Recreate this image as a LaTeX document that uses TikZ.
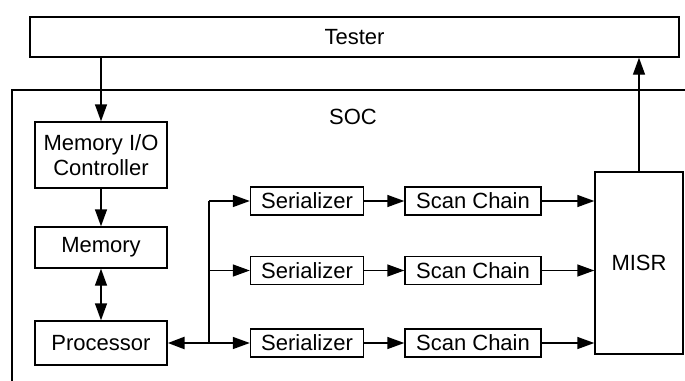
\documentclass[tikz,border=0pt]{standalone}
\usepackage{fontspec}
\setmainfont{Liberation Sans}
\usetikzlibrary{arrows.meta}
\begin{document}
\begin{tikzpicture}[x=1pt,y=-1pt,
  blk/.style={draw,line width=1.4pt,inner sep=0pt,align=center,
    font=\fontsize{22}{24.5}\selectfont},
  tip/.style={Triangle[length=17pt,width=12pt]},
  conn/.style={line width=1.4pt,-{Triangle[length=17pt,width=12pt]}},
  biconn/.style={line width=1.4pt,{Triangle[length=17pt,width=12pt]}-{Triangle[length=17pt,width=12pt]}},
  lbl/.style={font=\fontsize{22}{24.5}\selectfont}]
\useasboundingbox (0,0) rectangle (685,380);
\clip (0,0) rectangle (685,380);
\fill[white] (0,0) rectangle (685,380);

% system-on-chip outline, running off the right and bottom edges
\draw[line width=1.4pt] (12,400) -- (12,90) -- (700,90);
\node[lbl] (soc) at (353,117) {SOC};

% tester
\node[blk,minimum width=649pt,minimum height=40pt] (tester) at (354.5,37) {Tester};

% memory path
\node[blk,minimum width=132pt,minimum height=66pt] (mio) at (101,155) {Memory I/O\\Controller};
\node[blk,minimum width=132pt,minimum height=41pt] (mem) at (101,247.5) {Memory};
\node[blk,minimum width=132pt,minimum height=44pt] (proc) at (101,343) {Processor};

% serializers and scan chains
\foreach \i/\y in {1/201,2/270.5,3/343}{
  \node[blk,minimum width=113pt,minimum height=28pt] (ser\i) at (307,\y) {Serializer};
  \node[blk,minimum width=136pt,minimum height=28pt] (scan\i) at (473,\y) {Scan Chain};
}

% signature register
\node[blk,minimum width=88pt,minimum height=182pt] (misr) at (639,263) {MISR};

% connectors
\draw[conn] (mio.north |- tester.south) -- (mio.north);
\draw[conn] (mio) -- (mem);
\draw[biconn] (mem) -- (proc);

\coordinate (bus) at (209,343);
\draw[line width=2.6pt,-{Triangle[length=17pt,width=12pt]}] (bus) -- (proc.east);
\draw[line width=1.4pt] (bus) -- (bus |- ser1.west);
\foreach \i in {1,2,3}{
  \draw[conn] (bus |- ser\i.west) -- (ser\i.west);
  \draw[conn] (ser\i) -- (scan\i);
  \draw[conn] (scan\i.east) -- (scan\i.east -| misr.west);
}
\draw[conn] (misr.north) -- (misr.north |- tester.south);
\end{tikzpicture}
\end{document}
